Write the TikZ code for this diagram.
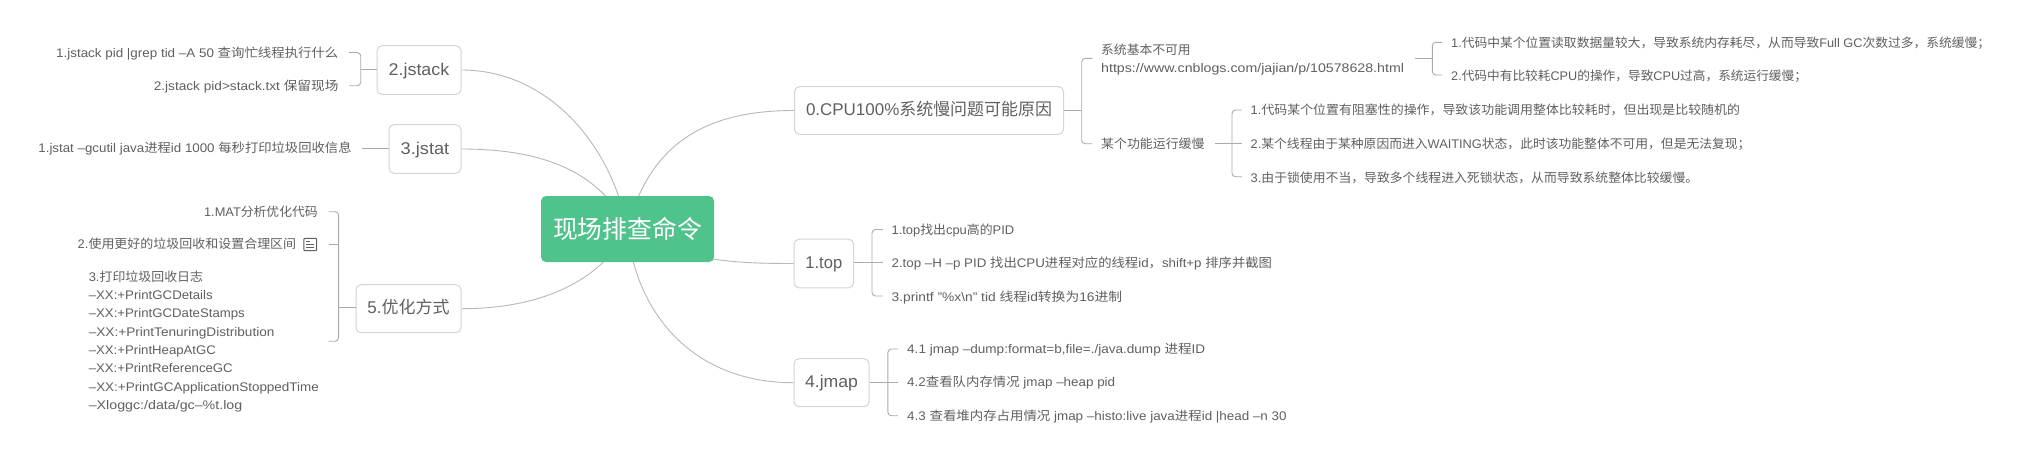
\documentclass[tikz,border=0pt]{standalone}
\usepackage{fontspec}
\usepackage{graphicx}
\usetikzlibrary{backgrounds}
\setmainfont{Liberation Sans}
\newfontfamily\cjk{Noto Sans CJK SC}
\newcommand\zh[1]{{\cjk #1}}
\newsavebox\fitbox
\newcommand\fitw[2]{\sbox\fitbox{#2}\pgfmathsetmacro\fitr{#1/\the\wd\fitbox}\scalebox{\fitr}[1]{\usebox\fitbox}}
\definecolor{txt}{HTML}{606060}
\definecolor{edgec}{HTML}{B8B8B8}
\definecolor{brkc}{HTML}{ABABAB}
\definecolor{boxc}{HTML}{D4D4D4}
\definecolor{rootc}{HTML}{50C28C}
\tikzset{
  x=1pt,y=-1pt,
  topicbox/.style={draw=boxc,line width=1pt,rounded corners=5pt,fill=white,inner sep=0pt,text=txt,
    text height=12pt,text depth=1.5pt,font=\fontsize{17}{18}\selectfont},
  leaf/.style={inner sep=0pt,text=txt,text height=10.5pt,text depth=1.5pt,font=\fontsize{12.5}{14}\selectfont},
  multi/.style={inner sep=0pt,text=txt,align=left,font=\fontsize{12.5}{18.3}\selectfont},
  curve/.style={draw=edgec,line width=0.9pt},
  brk/.style={draw=brkc,line width=0.9pt,rounded corners=3.5pt},
  conn/.style={draw=brkc,line width=0.9pt},
}
\begin{document}
\begin{tikzpicture}
\useasboundingbox (0,0) rectangle (2036,459);
% root and main topics
\node[fill=rootc,rounded corners=5pt,inner sep=0pt,minimum width=173pt,minimum height=66pt,text=white,font=\fontsize{25}{28}\selectfont] (root) at (627.5,229) {\fitw{148.7}{\zh{现场排查命令}}};
\node[topicbox,minimum width=84pt,minimum height=48.6pt] (jstack) at (419,70) {\fitw{60.7}{2.jstack}};
\node[topicbox,minimum width=72pt,minimum height=48.6pt] (jstat) at (425,149) {\fitw{48.6}{3.jstat}};
\node[topicbox,minimum width=105pt,minimum height=48pt] (opt) at (408.5,308.7) {\fitw{82.1}{5.\zh{优化方式}}};
\node[topicbox,minimum width=269pt,minimum height=47.6pt] (cpu) at (929,110.5) {\fitw{246}{0.CPU100\%\zh{系统慢问题可能原因}}};
\node[topicbox,minimum width=59.6pt,minimum height=48.6pt] (top) at (823.8,263.5) {\fitw{36.8}{1.top}};
\node[topicbox,minimum width=75pt,minimum height=48pt] (jmap) at (831.5,382.7) {\fitw{52.9}{4.jmap}};
% curves to the root
\begin{pgfonlayer}{background}
\fill[white] (0,0) rectangle (2036,459);
\draw[curve] (jstack.east) .. controls (545,70) and (610,140) .. (root.center);
\draw[curve] (jstat.east) .. controls (540,149) and (600,170) .. (root.center);
\draw[curve] (opt.east) .. controls (550,308.7) and (605,275) .. (root.center);
\draw[curve] (cpu.west) .. controls (710,110.5) and (650,140) .. (root.center);
\draw[curve] (top.west) .. controls (740,263.5) and (680,262) .. (root.center);
\draw[curve] (jmap.west) .. controls (690,382.7) and (635,310) .. (root.center);
\end{pgfonlayer}
% jstack
\node[leaf,anchor=east] (a1) at (338.6,52.5) {\fitw{282.2}{1.jstack pid |grep tid –A 50 \zh{查询忙线程执行什么}}};
\node[leaf,anchor=east] (a2) at (338.6,85.7) {\fitw{184.6}{2.jstack pid>stack.txt \zh{保留现场}}};
\coordinate (a1s) at (349,52.5); \coordinate (a2s) at (349,85.7); \coordinate (aspine) at (360.7,69);
\draw[brk] (a1s) -| (aspine) |- (a2s);
\draw[conn] (jstack.west |- aspine) -- (aspine);
% jstat
\node[leaf,anchor=east] (b1) at (351.8,148.3) {\fitw{313.2}{1.jstat –gcutil java\zh{进程}id 1000 \zh{每秒打印垃圾回收信息}}};
\coordinate (b1s) at (361.8,148.3);
\draw[conn] (jstat.west |- b1s) -- (b1s);
% optimisation
\node[leaf,anchor=east] (c1) at (317.9,211.7) {\fitw{113.6}{1.MAT\zh{分析优化代码}}};
\node[leaf,anchor=east] (c2) at (296.4,244.3) {\fitw{218.5}{2.\zh{使用更好的垃圾回收和设置合理区间}}};
\node[multi,anchor=west] (c3) at (88.6,341.4) {\fitw{114.3}{3.\zh{打印垃圾回收日志}}\\
\fitw{123.9}{–XX:+PrintGCDetails}\\
\fitw{156}{–XX:+PrintGCDateStamps}\\
\fitw{185.7}{–XX:+PrintTenuringDistribution}\\
\fitw{127.1}{–XX:+PrintHeapAtGC}\\
\fitw{143.9}{–XX:+PrintReferenceGC}\\
\fitw{230}{–XX:+PrintGCApplicationStoppedTime}\\
\fitw{153.5}{–Xloggc:/data/gc–\%t.log}};
\draw[line width=1pt,draw=txt,rounded corners=1pt] (303.8,238.3) rectangle (316.6,250.7);
\draw[line width=1pt,draw=txt] (306.2,241.5) -- (310,241.5) (306.2,244.5) -- (314,244.5) (306.2,247.5) -- (314,247.5);
\coordinate (c1s) at (328.6,211.7); \coordinate (c2s) at (328.6,244.3); \coordinate (c3s) at (328.6,341.2); \coordinate (cspine) at (338.6,307.3);
\draw[brk] (c1s) -| (cspine) |- (c3s);
\draw[conn] (c2s) -- (c2s -| cspine);
\draw[conn] (opt.west |- cspine) -- (cspine);
% top
\node[leaf,anchor=west] (d1) at (891.4,229.7) {\fitw{122.6}{1.top\zh{找出}cpu\zh{高的}PID}};
\node[leaf,anchor=west] (d2) at (891.4,262.7) {\fitw{380.4}{2.top –H –p PID \zh{找出}CPU\zh{进程对应的线程}id\zh{，}shift+p \zh{排序并截图}}};
\node[leaf,anchor=west] (d3) at (891.4,296.7) {\fitw{230.6}{3.printf "\%x\textbackslash n" tid \zh{线程}id\zh{转换为}16\zh{进制}}};
\coordinate (d1s) at (882.9,229.5); \coordinate (d2s) at (882.9,262.7); \coordinate (d3s) at (882.9,296); \coordinate (dspine) at (872,262.7);
\draw[brk] (d1s) -| (dspine) |- (d3s);
\draw[conn] (top.east |- d2s) -- (d2s);
% jmap
\node[leaf,anchor=west] (e1) at (907,349) {\fitw{298}{4.1 jmap –dump:format=b,file=./java.dump \zh{进程}ID}};
\node[leaf,anchor=west] (e2) at (907,382.3) {\fitw{208}{4.2\zh{查看队内存情况} jmap –heap pid}};
\node[leaf,anchor=west] (e3) at (907,415.7) {\fitw{379.4}{4.3 \zh{查看堆内存占用情况} jmap –histo:live java\zh{进程}id |head –n 30}};
\coordinate (e1s) at (897.9,349); \coordinate (e2s) at (897.9,382.3); \coordinate (e3s) at (897.9,415.7); \coordinate (espine) at (887.9,382.3);
\draw[brk] (e1s) -| (espine) |- (e3s);
\draw[conn] (jmap.east |- e2s) -- (e2s);
% cpu children
\node[multi,anchor=west] (f1) at (1101,59.2) {\fitw{89.4}{\zh{系统基本不可用}}\\\fitw{302.8}{https://www.cnblogs.com/jajian/p/10578628.html}};
\node[leaf,anchor=west] (f2) at (1101,143.7) {\fitw{103.3}{\zh{某个功能运行缓慢}}};
\coordinate (f1s) at (1092.4,58.3); \coordinate (f2s) at (1092.4,143.7); \coordinate (fspine) at (1081.7,110);
\draw[brk] (f1s) -| (fspine) |- (f2s);
\draw[conn] (cpu.east |- fspine) -- (fspine);
% unavailable system
\node[leaf,anchor=west] (g1) at (1451,43) {\fitw{539}{1.\zh{代码中某个位置读取数据量较大，导致系统内存耗尽，从而导致}Full GC\zh{次数过多，系统缓慢；}}};
\node[leaf,anchor=west] (g2) at (1451,76) {\fitw{355.8}{2.\zh{代码中有比较耗}CPU\zh{的操作，导致}CPU\zh{过高，系统运行缓慢；}}};
\coordinate (g1s) at (1442,42.3); \coordinate (g2s) at (1442,75); \coordinate (gspine) at (1432.3,58.3);
\draw[brk] (g1s) -| (gspine) |- (g2s);
\draw[conn] ([xshift=10.5pt]f1.east |- gspine) -- (gspine);
% slow feature
\node[leaf,anchor=west] (h1) at (1250.5,110.3) {\fitw{489.3}{1.\zh{代码某个位置有阻塞性的操作，导致该功能调用整体比较耗时，但出现是比较随机的}}};
\node[leaf,anchor=west] (h2) at (1250.5,143.7) {\fitw{499.8}{2.\zh{某个线程由于某种原因而进入}WAITING\zh{状态，此时该功能整体不可用，但是无法复现；}}};
\node[leaf,anchor=west] (h3) at (1250.5,177.7) {\fitw{447.5}{3.\zh{由于锁使用不当，导致多个线程进入死锁状态，从而导致系统整体比较缓慢。}}};
\coordinate (h1s) at (1241.8,110); \coordinate (h2s) at (1241.8,143.7); \coordinate (h3s) at (1241.8,176.7); \coordinate (hspine) at (1232,143.7);
\draw[brk] (h1s) -| (hspine) |- (h3s);
\draw[conn] ([xshift=10pt]f2.east) -- (h2s);
\end{tikzpicture}
\end{document}
